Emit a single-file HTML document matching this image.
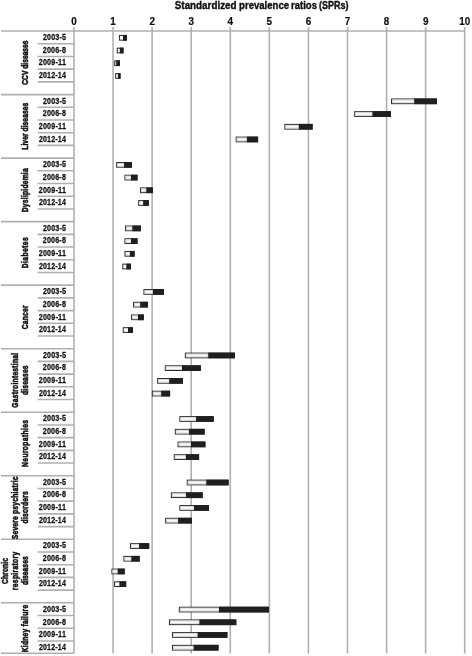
<!DOCTYPE html><html><head><meta charset="utf-8"><style>html,body{margin:0;padding:0;background:#fff;}body{width:472px;height:656px;overflow:hidden;}svg{display:block;will-change:transform;}text{font-family:"Liberation Sans",sans-serif;font-weight:bold;fill:#111;stroke:#111;stroke-width:0.2px;}</style></head><body>
<svg width="472" height="656" viewBox="0 0 472 656">
<line x1="74.00" y1="27" x2="74.00" y2="653.6" stroke="#b0b0b0" stroke-width="1.6"/>
<line x1="113.07" y1="27" x2="113.07" y2="653.6" stroke="#b0b0b0" stroke-width="1.6"/>
<line x1="152.14" y1="27" x2="152.14" y2="653.6" stroke="#b0b0b0" stroke-width="1.6"/>
<line x1="191.21" y1="27" x2="191.21" y2="653.6" stroke="#b0b0b0" stroke-width="1.6"/>
<line x1="230.28" y1="27" x2="230.28" y2="653.6" stroke="#b0b0b0" stroke-width="1.6"/>
<line x1="269.35" y1="27" x2="269.35" y2="653.6" stroke="#b0b0b0" stroke-width="1.6"/>
<line x1="308.42" y1="27" x2="308.42" y2="653.6" stroke="#b0b0b0" stroke-width="1.6"/>
<line x1="347.49" y1="27" x2="347.49" y2="653.6" stroke="#b0b0b0" stroke-width="1.6"/>
<line x1="386.56" y1="27" x2="386.56" y2="653.6" stroke="#b0b0b0" stroke-width="1.6"/>
<line x1="425.63" y1="27" x2="425.63" y2="653.6" stroke="#b0b0b0" stroke-width="1.6"/>
<line x1="464.70" y1="27" x2="464.70" y2="653.6" stroke="#b0b0b0" stroke-width="1.6"/>
<line x1="1" y1="31.05" x2="464.70" y2="31.05" stroke="#b0b0b0" stroke-width="1.6"/>
<line x1="37.7" y1="43.76" x2="74.00" y2="43.76" stroke="#b0b0b0" stroke-width="1.6"/>
<line x1="37.7" y1="56.46" x2="74.00" y2="56.46" stroke="#b0b0b0" stroke-width="1.6"/>
<line x1="37.7" y1="69.17" x2="74.00" y2="69.17" stroke="#b0b0b0" stroke-width="1.6"/>
<line x1="37.7" y1="81.87" x2="74.00" y2="81.87" stroke="#b0b0b0" stroke-width="1.6"/>
<line x1="1" y1="94.58" x2="74.00" y2="94.58" stroke="#b0b0b0" stroke-width="1.6"/>
<line x1="37.7" y1="107.29" x2="74.00" y2="107.29" stroke="#b0b0b0" stroke-width="1.6"/>
<line x1="37.7" y1="119.99" x2="74.00" y2="119.99" stroke="#b0b0b0" stroke-width="1.6"/>
<line x1="37.7" y1="132.70" x2="74.00" y2="132.70" stroke="#b0b0b0" stroke-width="1.6"/>
<line x1="37.7" y1="145.40" x2="74.00" y2="145.40" stroke="#b0b0b0" stroke-width="1.6"/>
<line x1="1" y1="158.11" x2="74.00" y2="158.11" stroke="#b0b0b0" stroke-width="1.6"/>
<line x1="37.7" y1="170.82" x2="74.00" y2="170.82" stroke="#b0b0b0" stroke-width="1.6"/>
<line x1="37.7" y1="183.52" x2="74.00" y2="183.52" stroke="#b0b0b0" stroke-width="1.6"/>
<line x1="37.7" y1="196.23" x2="74.00" y2="196.23" stroke="#b0b0b0" stroke-width="1.6"/>
<line x1="37.7" y1="208.93" x2="74.00" y2="208.93" stroke="#b0b0b0" stroke-width="1.6"/>
<line x1="1" y1="221.64" x2="74.00" y2="221.64" stroke="#b0b0b0" stroke-width="1.6"/>
<line x1="37.7" y1="234.35" x2="74.00" y2="234.35" stroke="#b0b0b0" stroke-width="1.6"/>
<line x1="37.7" y1="247.05" x2="74.00" y2="247.05" stroke="#b0b0b0" stroke-width="1.6"/>
<line x1="37.7" y1="259.76" x2="74.00" y2="259.76" stroke="#b0b0b0" stroke-width="1.6"/>
<line x1="37.7" y1="272.46" x2="74.00" y2="272.46" stroke="#b0b0b0" stroke-width="1.6"/>
<line x1="1" y1="285.17" x2="74.00" y2="285.17" stroke="#b0b0b0" stroke-width="1.6"/>
<line x1="37.7" y1="297.88" x2="74.00" y2="297.88" stroke="#b0b0b0" stroke-width="1.6"/>
<line x1="37.7" y1="310.58" x2="74.00" y2="310.58" stroke="#b0b0b0" stroke-width="1.6"/>
<line x1="37.7" y1="323.29" x2="74.00" y2="323.29" stroke="#b0b0b0" stroke-width="1.6"/>
<line x1="37.7" y1="335.99" x2="74.00" y2="335.99" stroke="#b0b0b0" stroke-width="1.6"/>
<line x1="1" y1="348.70" x2="74.00" y2="348.70" stroke="#b0b0b0" stroke-width="1.6"/>
<line x1="37.7" y1="361.41" x2="74.00" y2="361.41" stroke="#b0b0b0" stroke-width="1.6"/>
<line x1="37.7" y1="374.11" x2="74.00" y2="374.11" stroke="#b0b0b0" stroke-width="1.6"/>
<line x1="37.7" y1="386.82" x2="74.00" y2="386.82" stroke="#b0b0b0" stroke-width="1.6"/>
<line x1="37.7" y1="399.52" x2="74.00" y2="399.52" stroke="#b0b0b0" stroke-width="1.6"/>
<line x1="1" y1="412.23" x2="74.00" y2="412.23" stroke="#b0b0b0" stroke-width="1.6"/>
<line x1="37.7" y1="424.94" x2="74.00" y2="424.94" stroke="#b0b0b0" stroke-width="1.6"/>
<line x1="37.7" y1="437.64" x2="74.00" y2="437.64" stroke="#b0b0b0" stroke-width="1.6"/>
<line x1="37.7" y1="450.35" x2="74.00" y2="450.35" stroke="#b0b0b0" stroke-width="1.6"/>
<line x1="37.7" y1="463.05" x2="74.00" y2="463.05" stroke="#b0b0b0" stroke-width="1.6"/>
<line x1="1" y1="475.76" x2="74.00" y2="475.76" stroke="#b0b0b0" stroke-width="1.6"/>
<line x1="37.7" y1="488.47" x2="74.00" y2="488.47" stroke="#b0b0b0" stroke-width="1.6"/>
<line x1="37.7" y1="501.17" x2="74.00" y2="501.17" stroke="#b0b0b0" stroke-width="1.6"/>
<line x1="37.7" y1="513.88" x2="74.00" y2="513.88" stroke="#b0b0b0" stroke-width="1.6"/>
<line x1="37.7" y1="526.58" x2="74.00" y2="526.58" stroke="#b0b0b0" stroke-width="1.6"/>
<line x1="1" y1="539.29" x2="74.00" y2="539.29" stroke="#b0b0b0" stroke-width="1.6"/>
<line x1="37.7" y1="552.00" x2="74.00" y2="552.00" stroke="#b0b0b0" stroke-width="1.6"/>
<line x1="37.7" y1="564.70" x2="74.00" y2="564.70" stroke="#b0b0b0" stroke-width="1.6"/>
<line x1="37.7" y1="577.41" x2="74.00" y2="577.41" stroke="#b0b0b0" stroke-width="1.6"/>
<line x1="37.7" y1="590.11" x2="74.00" y2="590.11" stroke="#b0b0b0" stroke-width="1.6"/>
<line x1="1" y1="602.82" x2="74.00" y2="602.82" stroke="#b0b0b0" stroke-width="1.6"/>
<line x1="37.7" y1="615.53" x2="74.00" y2="615.53" stroke="#b0b0b0" stroke-width="1.6"/>
<line x1="37.7" y1="628.23" x2="74.00" y2="628.23" stroke="#b0b0b0" stroke-width="1.6"/>
<line x1="37.7" y1="640.94" x2="74.00" y2="640.94" stroke="#b0b0b0" stroke-width="1.6"/>
<line x1="1" y1="653.2" x2="74.00" y2="653.2" stroke="#b0b0b0" stroke-width="1.6"/>
<text style="stroke-width:0.4px" transform="translate(174.80,8.60) scale(0.8948,1)" font-size="11.0">Standardized</text>
<text style="stroke-width:0.4px" transform="translate(239.10,8.60) scale(0.8698,1)" font-size="11.0">prevalence</text>
<text style="stroke-width:0.4px" transform="translate(291.00,8.60) scale(0.8680,1)" font-size="11.0">ratios</text>
<text style="stroke-width:0.4px" transform="translate(318.90,8.60) scale(0.8209,1)" font-size="11.0">(SPRs)</text>
<text transform="translate(71.25,24.60) scale(0.9000,1)" font-size="11.0">0</text>
<text transform="translate(110.32,24.60) scale(0.9000,1)" font-size="11.0">1</text>
<text transform="translate(149.39,24.60) scale(0.9000,1)" font-size="11.0">2</text>
<text transform="translate(188.46,24.60) scale(0.9000,1)" font-size="11.0">3</text>
<text transform="translate(227.53,24.60) scale(0.9000,1)" font-size="11.0">4</text>
<text transform="translate(266.60,24.60) scale(0.9000,1)" font-size="11.0">5</text>
<text transform="translate(305.67,24.60) scale(0.9000,1)" font-size="11.0">6</text>
<text transform="translate(344.74,24.60) scale(0.9000,1)" font-size="11.0">7</text>
<text transform="translate(383.81,24.60) scale(0.9000,1)" font-size="11.0">8</text>
<text transform="translate(422.88,24.60) scale(0.9000,1)" font-size="11.0">9</text>
<text transform="translate(459.20,24.60) scale(0.9000,1)" font-size="11.0">10</text>
<text transform="translate(27.60,84.80) rotate(-90) scale(0.7990,1)" font-size="8.4" style="stroke-width:0.55px">CCV diseases</text>
<text transform="translate(42.90,40.05) scale(0.8600,1)" font-size="8.3" letter-spacing="0.180" style="stroke-width:0.25px">2003-5</text>
<text transform="translate(42.80,52.76) scale(0.8600,1)" font-size="8.3" letter-spacing="0.203" style="stroke-width:0.25px">2006-8</text>
<text transform="translate(38.70,65.46) scale(0.8600,1)" font-size="8.3" letter-spacing="0.271" style="stroke-width:0.25px">2009-11</text>
<text transform="translate(38.90,78.17) scale(0.8600,1)" font-size="8.3" letter-spacing="0.156" style="stroke-width:0.25px">2012-14</text>
<text transform="translate(27.60,149.70) rotate(-90) scale(0.8000,1)" font-size="8.4" letter-spacing="0.065" style="stroke-width:0.55px">Liver diseases</text>
<text transform="translate(42.90,103.58) scale(0.8600,1)" font-size="8.3" letter-spacing="0.180" style="stroke-width:0.25px">2003-5</text>
<text transform="translate(42.80,116.29) scale(0.8600,1)" font-size="8.3" letter-spacing="0.203" style="stroke-width:0.25px">2006-8</text>
<text transform="translate(38.70,128.99) scale(0.8600,1)" font-size="8.3" letter-spacing="0.271" style="stroke-width:0.25px">2009-11</text>
<text transform="translate(38.90,141.70) scale(0.8600,1)" font-size="8.3" letter-spacing="0.156" style="stroke-width:0.25px">2012-14</text>
<text transform="translate(27.60,212.20) rotate(-90) scale(0.8000,1)" font-size="8.4" letter-spacing="0.284" style="stroke-width:0.55px">Dyslipidemia</text>
<text transform="translate(42.90,167.11) scale(0.8600,1)" font-size="8.3" letter-spacing="0.180" style="stroke-width:0.25px">2003-5</text>
<text transform="translate(42.80,179.82) scale(0.8600,1)" font-size="8.3" letter-spacing="0.203" style="stroke-width:0.25px">2006-8</text>
<text transform="translate(38.70,192.52) scale(0.8600,1)" font-size="8.3" letter-spacing="0.271" style="stroke-width:0.25px">2009-11</text>
<text transform="translate(38.90,205.23) scale(0.8600,1)" font-size="8.3" letter-spacing="0.156" style="stroke-width:0.25px">2012-14</text>
<text transform="translate(27.60,268.20) rotate(-90) scale(0.8000,1)" font-size="8.4" letter-spacing="0.516" style="stroke-width:0.55px">Diabetes</text>
<text transform="translate(42.90,230.64) scale(0.8600,1)" font-size="8.3" letter-spacing="0.180" style="stroke-width:0.25px">2003-5</text>
<text transform="translate(42.80,243.35) scale(0.8600,1)" font-size="8.3" letter-spacing="0.203" style="stroke-width:0.25px">2006-8</text>
<text transform="translate(38.70,256.05) scale(0.8600,1)" font-size="8.3" letter-spacing="0.271" style="stroke-width:0.25px">2009-11</text>
<text transform="translate(38.90,268.76) scale(0.8600,1)" font-size="8.3" letter-spacing="0.156" style="stroke-width:0.25px">2012-14</text>
<text transform="translate(27.60,329.20) rotate(-90) scale(0.8000,1)" font-size="8.4" letter-spacing="0.253" style="stroke-width:0.55px">Cancer</text>
<text transform="translate(42.90,294.17) scale(0.8600,1)" font-size="8.3" letter-spacing="0.180" style="stroke-width:0.25px">2003-5</text>
<text transform="translate(42.80,306.88) scale(0.8600,1)" font-size="8.3" letter-spacing="0.203" style="stroke-width:0.25px">2006-8</text>
<text transform="translate(38.70,319.58) scale(0.8600,1)" font-size="8.3" letter-spacing="0.271" style="stroke-width:0.25px">2009-11</text>
<text transform="translate(38.90,332.29) scale(0.8600,1)" font-size="8.3" letter-spacing="0.156" style="stroke-width:0.25px">2012-14</text>
<text transform="translate(17.70,407.80) rotate(-90) scale(0.8000,1)" font-size="8.4" letter-spacing="0.328" style="stroke-width:0.55px">Gastrointestinal</text>
<text transform="translate(27.60,395.00) rotate(-90) scale(0.8000,1)" font-size="8.4" letter-spacing="0.215" style="stroke-width:0.55px">diseases</text>
<text transform="translate(42.90,357.70) scale(0.8600,1)" font-size="8.3" letter-spacing="0.180" style="stroke-width:0.25px">2003-5</text>
<text transform="translate(42.80,370.41) scale(0.8600,1)" font-size="8.3" letter-spacing="0.203" style="stroke-width:0.25px">2006-8</text>
<text transform="translate(38.70,383.11) scale(0.8600,1)" font-size="8.3" letter-spacing="0.271" style="stroke-width:0.25px">2009-11</text>
<text transform="translate(38.90,395.82) scale(0.8600,1)" font-size="8.3" letter-spacing="0.156" style="stroke-width:0.25px">2012-14</text>
<text transform="translate(27.60,466.90) rotate(-90) scale(0.8000,1)" font-size="8.4" letter-spacing="0.461" style="stroke-width:0.55px">Neuropathies</text>
<text transform="translate(42.90,421.23) scale(0.8600,1)" font-size="8.3" letter-spacing="0.180" style="stroke-width:0.25px">2003-5</text>
<text transform="translate(42.80,433.94) scale(0.8600,1)" font-size="8.3" letter-spacing="0.203" style="stroke-width:0.25px">2006-8</text>
<text transform="translate(38.70,446.64) scale(0.8600,1)" font-size="8.3" letter-spacing="0.271" style="stroke-width:0.25px">2009-11</text>
<text transform="translate(38.90,459.35) scale(0.8600,1)" font-size="8.3" letter-spacing="0.156" style="stroke-width:0.25px">2012-14</text>
<text transform="translate(17.70,539.20) rotate(-90) scale(0.8000,1)" font-size="8.4" letter-spacing="0.250" style="stroke-width:0.55px">Severe psychiatric</text>
<text transform="translate(27.60,523.40) rotate(-90) scale(0.8000,1)" font-size="8.4" letter-spacing="0.246" style="stroke-width:0.55px">disorders</text>
<text transform="translate(42.90,484.76) scale(0.8600,1)" font-size="8.3" letter-spacing="0.180" style="stroke-width:0.25px">2003-5</text>
<text transform="translate(42.80,497.47) scale(0.8600,1)" font-size="8.3" letter-spacing="0.203" style="stroke-width:0.25px">2006-8</text>
<text transform="translate(38.70,510.17) scale(0.8600,1)" font-size="8.3" letter-spacing="0.271" style="stroke-width:0.25px">2009-11</text>
<text transform="translate(38.90,522.88) scale(0.8600,1)" font-size="8.3" letter-spacing="0.156" style="stroke-width:0.25px">2012-14</text>
<text transform="translate(7.80,583.90) rotate(-90) scale(0.8000,1)" font-size="8.4" letter-spacing="0.107" style="stroke-width:0.55px">Chronic</text>
<text transform="translate(17.70,590.20) rotate(-90) scale(0.8000,1)" font-size="8.4" letter-spacing="0.423" style="stroke-width:0.55px">respiratory</text>
<text transform="translate(27.60,585.00) rotate(-90) scale(0.8000,1)" font-size="8.4" letter-spacing="0.054" style="stroke-width:0.55px">diseases</text>
<text transform="translate(42.90,548.29) scale(0.8600,1)" font-size="8.3" letter-spacing="0.180" style="stroke-width:0.25px">2003-5</text>
<text transform="translate(42.80,561.00) scale(0.8600,1)" font-size="8.3" letter-spacing="0.203" style="stroke-width:0.25px">2006-8</text>
<text transform="translate(38.70,573.70) scale(0.8600,1)" font-size="8.3" letter-spacing="0.271" style="stroke-width:0.25px">2009-11</text>
<text transform="translate(38.90,586.41) scale(0.8600,1)" font-size="8.3" letter-spacing="0.156" style="stroke-width:0.25px">2012-14</text>
<text transform="translate(27.60,652.30) rotate(-90) scale(0.8000,1)" font-size="8.4" letter-spacing="0.294" style="stroke-width:0.55px">Kidney failure</text>
<text transform="translate(42.90,611.82) scale(0.8600,1)" font-size="8.3" letter-spacing="0.180" style="stroke-width:0.25px">2003-5</text>
<text transform="translate(42.80,624.53) scale(0.8600,1)" font-size="8.3" letter-spacing="0.203" style="stroke-width:0.25px">2006-8</text>
<text transform="translate(38.70,637.23) scale(0.8600,1)" font-size="8.3" letter-spacing="0.271" style="stroke-width:0.25px">2009-11</text>
<text transform="translate(38.90,649.94) scale(0.8600,1)" font-size="8.3" letter-spacing="0.156" style="stroke-width:0.25px">2012-14</text>
<rect x="119.45" y="35.45" width="6.95" height="4.70" fill="#fafafa" stroke="#2a2a2a" stroke-width="1"/>
<rect x="123.00" y="34.95" width="3.90" height="5.70" fill="#1f1f1f"/>
<rect x="117.25" y="48.16" width="5.75" height="4.70" fill="#fafafa" stroke="#2a2a2a" stroke-width="1"/>
<rect x="119.80" y="47.66" width="3.70" height="5.70" fill="#1f1f1f"/>
<rect x="114.75" y="60.86" width="4.75" height="4.70" fill="#fafafa" stroke="#2a2a2a" stroke-width="1"/>
<rect x="116.20" y="60.36" width="3.80" height="5.70" fill="#1f1f1f"/>
<rect x="115.65" y="73.57" width="4.35" height="4.70" fill="#fafafa" stroke="#2a2a2a" stroke-width="1"/>
<rect x="117.90" y="73.07" width="2.60" height="5.70" fill="#1f1f1f"/>
<rect x="391.55" y="98.98" width="44.95" height="4.70" fill="#fafafa" stroke="#2a2a2a" stroke-width="1"/>
<rect x="392.55" y="99.98" width="21.15" height="2.70" fill="none" stroke="#d4d4d4" stroke-width="0.9"/>
<rect x="414.20" y="98.48" width="22.80" height="5.70" fill="#1f1f1f"/>
<rect x="354.65" y="111.69" width="35.85" height="4.70" fill="#fafafa" stroke="#2a2a2a" stroke-width="1"/>
<rect x="355.65" y="112.69" width="16.25" height="2.70" fill="none" stroke="#d4d4d4" stroke-width="0.9"/>
<rect x="372.40" y="111.19" width="18.60" height="5.70" fill="#1f1f1f"/>
<rect x="284.85" y="124.40" width="27.25" height="4.70" fill="#fafafa" stroke="#2a2a2a" stroke-width="1"/>
<rect x="285.85" y="125.40" width="12.45" height="2.70" fill="none" stroke="#d4d4d4" stroke-width="0.9"/>
<rect x="298.80" y="123.90" width="13.80" height="5.70" fill="#1f1f1f"/>
<rect x="236.15" y="137.10" width="21.45" height="4.70" fill="#fafafa" stroke="#2a2a2a" stroke-width="1"/>
<rect x="237.15" y="138.10" width="9.25" height="2.70" fill="none" stroke="#d4d4d4" stroke-width="0.9"/>
<rect x="246.90" y="136.60" width="11.20" height="5.70" fill="#1f1f1f"/>
<rect x="116.65" y="162.51" width="14.75" height="4.70" fill="#fafafa" stroke="#2a2a2a" stroke-width="1"/>
<rect x="117.65" y="163.51" width="5.95" height="2.70" fill="none" stroke="#d4d4d4" stroke-width="0.9"/>
<rect x="124.10" y="162.01" width="7.80" height="5.70" fill="#1f1f1f"/>
<rect x="124.95" y="175.22" width="12.05" height="4.70" fill="#fafafa" stroke="#2a2a2a" stroke-width="1"/>
<rect x="125.95" y="176.22" width="4.55" height="2.70" fill="none" stroke="#d4d4d4" stroke-width="0.9"/>
<rect x="131.00" y="174.72" width="6.50" height="5.70" fill="#1f1f1f"/>
<rect x="140.55" y="187.93" width="11.75" height="4.70" fill="#fafafa" stroke="#2a2a2a" stroke-width="1"/>
<rect x="141.55" y="188.93" width="4.25" height="2.70" fill="none" stroke="#d4d4d4" stroke-width="0.9"/>
<rect x="146.30" y="187.43" width="6.50" height="5.70" fill="#1f1f1f"/>
<rect x="138.65" y="200.63" width="9.65" height="4.70" fill="#fafafa" stroke="#2a2a2a" stroke-width="1"/>
<rect x="143.10" y="200.13" width="5.70" height="5.70" fill="#1f1f1f"/>
<rect x="125.55" y="226.04" width="14.75" height="4.70" fill="#fafafa" stroke="#2a2a2a" stroke-width="1"/>
<rect x="126.55" y="227.04" width="5.25" height="2.70" fill="none" stroke="#d4d4d4" stroke-width="0.9"/>
<rect x="132.30" y="225.54" width="8.50" height="5.70" fill="#1f1f1f"/>
<rect x="124.95" y="238.75" width="12.05" height="4.70" fill="#fafafa" stroke="#2a2a2a" stroke-width="1"/>
<rect x="125.95" y="239.75" width="4.55" height="2.70" fill="none" stroke="#d4d4d4" stroke-width="0.9"/>
<rect x="131.00" y="238.25" width="6.50" height="5.70" fill="#1f1f1f"/>
<rect x="124.95" y="251.46" width="9.15" height="4.70" fill="#fafafa" stroke="#2a2a2a" stroke-width="1"/>
<rect x="129.80" y="250.96" width="4.80" height="5.70" fill="#1f1f1f"/>
<rect x="122.75" y="264.16" width="7.75" height="4.70" fill="#fafafa" stroke="#2a2a2a" stroke-width="1"/>
<rect x="126.30" y="263.66" width="4.70" height="5.70" fill="#1f1f1f"/>
<rect x="143.95" y="289.57" width="19.55" height="4.70" fill="#fafafa" stroke="#2a2a2a" stroke-width="1"/>
<rect x="144.95" y="290.57" width="7.45" height="2.70" fill="none" stroke="#d4d4d4" stroke-width="0.9"/>
<rect x="152.90" y="289.07" width="11.10" height="5.70" fill="#1f1f1f"/>
<rect x="133.55" y="302.28" width="13.85" height="4.70" fill="#fafafa" stroke="#2a2a2a" stroke-width="1"/>
<rect x="134.55" y="303.28" width="5.15" height="2.70" fill="none" stroke="#d4d4d4" stroke-width="0.9"/>
<rect x="140.20" y="301.78" width="7.70" height="5.70" fill="#1f1f1f"/>
<rect x="131.55" y="314.98" width="11.75" height="4.70" fill="#fafafa" stroke="#2a2a2a" stroke-width="1"/>
<rect x="132.55" y="315.98" width="4.95" height="2.70" fill="none" stroke="#d4d4d4" stroke-width="0.9"/>
<rect x="138.00" y="314.48" width="5.80" height="5.70" fill="#1f1f1f"/>
<rect x="123.25" y="327.69" width="9.15" height="4.70" fill="#fafafa" stroke="#2a2a2a" stroke-width="1"/>
<rect x="128.00" y="327.19" width="4.90" height="5.70" fill="#1f1f1f"/>
<rect x="185.35" y="353.10" width="49.05" height="4.70" fill="#fafafa" stroke="#2a2a2a" stroke-width="1"/>
<rect x="186.35" y="354.10" width="21.35" height="2.70" fill="none" stroke="#d4d4d4" stroke-width="0.9"/>
<rect x="208.20" y="352.60" width="26.70" height="5.70" fill="#1f1f1f"/>
<rect x="165.25" y="365.81" width="35.05" height="4.70" fill="#fafafa" stroke="#2a2a2a" stroke-width="1"/>
<rect x="166.25" y="366.81" width="15.25" height="2.70" fill="none" stroke="#d4d4d4" stroke-width="0.9"/>
<rect x="182.00" y="365.31" width="18.80" height="5.70" fill="#1f1f1f"/>
<rect x="157.65" y="378.51" width="24.85" height="4.70" fill="#fafafa" stroke="#2a2a2a" stroke-width="1"/>
<rect x="158.65" y="379.51" width="10.05" height="2.70" fill="none" stroke="#d4d4d4" stroke-width="0.9"/>
<rect x="169.20" y="378.01" width="13.80" height="5.70" fill="#1f1f1f"/>
<rect x="152.35" y="391.22" width="17.25" height="4.70" fill="#fafafa" stroke="#2a2a2a" stroke-width="1"/>
<rect x="153.35" y="392.22" width="7.35" height="2.70" fill="none" stroke="#d4d4d4" stroke-width="0.9"/>
<rect x="161.20" y="390.72" width="8.90" height="5.70" fill="#1f1f1f"/>
<rect x="179.85" y="416.63" width="33.35" height="4.70" fill="#fafafa" stroke="#2a2a2a" stroke-width="1"/>
<rect x="180.85" y="417.63" width="14.75" height="2.70" fill="none" stroke="#d4d4d4" stroke-width="0.9"/>
<rect x="196.10" y="416.13" width="17.60" height="5.70" fill="#1f1f1f"/>
<rect x="175.35" y="429.34" width="28.75" height="4.70" fill="#fafafa" stroke="#2a2a2a" stroke-width="1"/>
<rect x="176.35" y="430.34" width="12.15" height="2.70" fill="none" stroke="#d4d4d4" stroke-width="0.9"/>
<rect x="189.00" y="428.84" width="15.60" height="5.70" fill="#1f1f1f"/>
<rect x="178.05" y="442.04" width="26.85" height="4.70" fill="#fafafa" stroke="#2a2a2a" stroke-width="1"/>
<rect x="179.05" y="443.04" width="11.45" height="2.70" fill="none" stroke="#d4d4d4" stroke-width="0.9"/>
<rect x="191.00" y="441.54" width="14.40" height="5.70" fill="#1f1f1f"/>
<rect x="174.25" y="454.75" width="24.35" height="4.70" fill="#fafafa" stroke="#2a2a2a" stroke-width="1"/>
<rect x="175.25" y="455.75" width="10.15" height="2.70" fill="none" stroke="#d4d4d4" stroke-width="0.9"/>
<rect x="185.90" y="454.25" width="13.20" height="5.70" fill="#1f1f1f"/>
<rect x="187.25" y="480.16" width="40.85" height="4.70" fill="#fafafa" stroke="#2a2a2a" stroke-width="1"/>
<rect x="188.25" y="481.16" width="17.55" height="2.70" fill="none" stroke="#d4d4d4" stroke-width="0.9"/>
<rect x="206.30" y="479.66" width="22.30" height="5.70" fill="#1f1f1f"/>
<rect x="171.35" y="492.87" width="30.85" height="4.70" fill="#fafafa" stroke="#2a2a2a" stroke-width="1"/>
<rect x="172.35" y="493.87" width="13.15" height="2.70" fill="none" stroke="#d4d4d4" stroke-width="0.9"/>
<rect x="186.00" y="492.37" width="16.70" height="5.70" fill="#1f1f1f"/>
<rect x="179.85" y="505.57" width="28.65" height="4.70" fill="#fafafa" stroke="#2a2a2a" stroke-width="1"/>
<rect x="180.85" y="506.57" width="12.65" height="2.70" fill="none" stroke="#d4d4d4" stroke-width="0.9"/>
<rect x="194.00" y="505.07" width="15.00" height="5.70" fill="#1f1f1f"/>
<rect x="165.65" y="518.28" width="25.75" height="4.70" fill="#fafafa" stroke="#2a2a2a" stroke-width="1"/>
<rect x="166.65" y="519.28" width="10.95" height="2.70" fill="none" stroke="#d4d4d4" stroke-width="0.9"/>
<rect x="178.10" y="517.78" width="13.80" height="5.70" fill="#1f1f1f"/>
<rect x="130.45" y="543.69" width="18.25" height="4.70" fill="#fafafa" stroke="#2a2a2a" stroke-width="1"/>
<rect x="131.45" y="544.69" width="7.15" height="2.70" fill="none" stroke="#d4d4d4" stroke-width="0.9"/>
<rect x="139.10" y="543.19" width="10.10" height="5.70" fill="#1f1f1f"/>
<rect x="123.95" y="556.40" width="15.25" height="4.70" fill="#fafafa" stroke="#2a2a2a" stroke-width="1"/>
<rect x="124.95" y="557.40" width="5.85" height="2.70" fill="none" stroke="#d4d4d4" stroke-width="0.9"/>
<rect x="131.30" y="555.90" width="8.40" height="5.70" fill="#1f1f1f"/>
<rect x="111.95" y="569.10" width="12.25" height="4.70" fill="#fafafa" stroke="#2a2a2a" stroke-width="1"/>
<rect x="112.95" y="570.10" width="4.25" height="2.70" fill="none" stroke="#d4d4d4" stroke-width="0.9"/>
<rect x="117.70" y="568.60" width="7.00" height="5.70" fill="#1f1f1f"/>
<rect x="114.55" y="581.81" width="11.15" height="4.70" fill="#fafafa" stroke="#2a2a2a" stroke-width="1"/>
<rect x="119.40" y="581.31" width="6.80" height="5.70" fill="#1f1f1f"/>
<rect x="179.35" y="607.22" width="89.05" height="4.70" fill="#fafafa" stroke="#2a2a2a" stroke-width="1"/>
<rect x="180.35" y="608.22" width="38.15" height="2.70" fill="none" stroke="#d4d4d4" stroke-width="0.9"/>
<rect x="219.00" y="606.72" width="49.90" height="5.70" fill="#1f1f1f"/>
<rect x="169.45" y="619.93" width="66.35" height="4.70" fill="#fafafa" stroke="#2a2a2a" stroke-width="1"/>
<rect x="170.45" y="620.93" width="28.45" height="2.70" fill="none" stroke="#d4d4d4" stroke-width="0.9"/>
<rect x="199.40" y="619.43" width="36.90" height="5.70" fill="#1f1f1f"/>
<rect x="172.45" y="632.63" width="54.45" height="4.70" fill="#fafafa" stroke="#2a2a2a" stroke-width="1"/>
<rect x="173.45" y="633.63" width="23.65" height="2.70" fill="none" stroke="#d4d4d4" stroke-width="0.9"/>
<rect x="197.60" y="632.13" width="29.80" height="5.70" fill="#1f1f1f"/>
<rect x="172.45" y="645.34" width="45.55" height="4.70" fill="#fafafa" stroke="#2a2a2a" stroke-width="1"/>
<rect x="173.45" y="646.34" width="19.65" height="2.70" fill="none" stroke="#d4d4d4" stroke-width="0.9"/>
<rect x="193.60" y="644.84" width="24.90" height="5.70" fill="#1f1f1f"/>
</svg></body></html>
